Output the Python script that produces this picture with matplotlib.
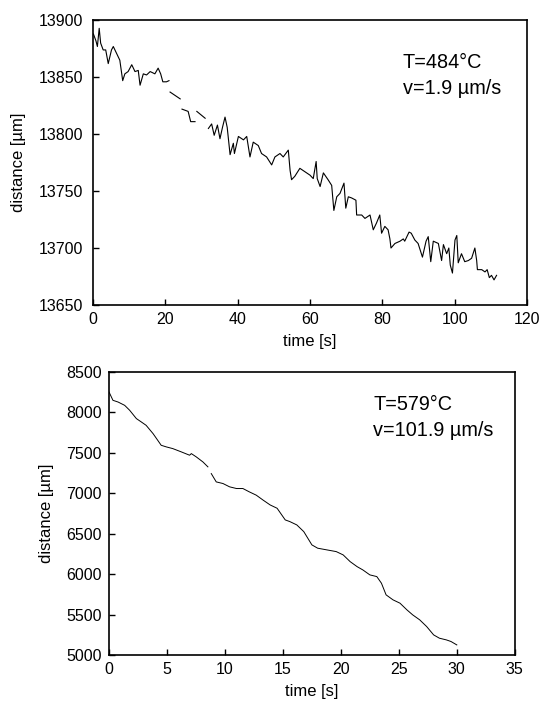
import numpy as np
import matplotlib
matplotlib.use("Agg")
import matplotlib.pyplot as plt

plt.rcParams['font.family'] = ['Liberation Sans', 'DejaVu Sans']

# top panel: T=484 C, slow creep (nan = gaps in the trace)
t1 = [0.1, 0.8, 1.2, 1.7, 2.1, 2.8, 3.5, 4.2, 5.1, 5.6, 6.5, 7.4, 8.2, 8.8, 9.7,
      10.7, 11.6, 12.5, 13.0, 13.9, 14.8, 15.8, 17.1, 18.0, 18.7, 19.3, 20.3, 21.0,
      21.15, 21.3, 22.7, 24.1, 24.35, 24.6, 26.3, 27.0, 28.2, 28.45, 28.7, 31.0,
      31.45, 31.9, 32.8, 33.5, 34.4, 35.1, 35.8, 36.5, 37.1, 37.9, 38.8, 39.1, 40.2,
      41.6, 42.5, 43.4, 44.3, 45.7, 46.6, 48.0, 49.4, 50.3, 51.7, 52.6, 54.0, 54.5,
      54.9, 55.8, 57.2, 58.6, 60.0, 60.9, 61.7, 62.0, 62.8, 63.7, 65.0, 66.0, 66.6,
      67.4, 68.3, 69.4, 69.9, 70.6, 71.5, 72.7, 72.9, 74.3, 75.2, 76.6, 77.5, 78.4,
      79.3, 79.8, 80.7, 81.6, 82.1, 82.4, 83.5, 84.9, 85.8, 86.2, 87.4, 88.0, 89.0,
      89.9, 91.1, 92.1, 92.7, 93.4, 94.1, 95.5, 96.4, 96.9, 97.8, 98.4, 98.8, 99.4,
      100.1, 100.6, 101.0, 101.9, 102.8, 103.8, 104.7, 105.6, 106.1, 106.3, 107.5,
      108.4, 109.0, 109.6, 110.2, 110.9, 111.6]
d1 = [13888, 13882, 13877, 13893, 13880, 13874, 13874, 13862, 13874, 13877, 13871,
      13865, 13847, 13853, 13855, 13861, 13855, 13856, 13843, 13853, 13852, 13855,
      13853, 13858, 13853, 13846, 13846, 13847, np.nan, 13837, 13834, 13831, np.nan,
      13822, 13820, 13811, 13811, np.nan, 13820, 13814, np.nan, 13805, 13809, 13799,
      13808, 13796, 13806, 13815, 13806, 13782, 13792, 13783, 13798, 13795, 13798,
      13780, 13793, 13790, 13783, 13780, 13773, 13780, 13783, 13780, 13786, 13768,
      13760, 13763, 13770, 13767, 13764, 13761, 13776, 13761, 13754, 13766, 13760,
      13755, 13733, 13745, 13748, 13757, 13735, 13745, 13744, 13742, 13729, 13729,
      13726, 13729, 13716, 13722, 13729, 13713, 13719, 13716, 13708, 13700, 13704,
      13706, 13708, 13706, 13714, 13713, 13707, 13704, 13692, 13706, 13710, 13688,
      13706, 13704, 13689, 13703, 13695, 13700, 13685, 13678, 13707, 13711, 13687,
      13695, 13688, 13689, 13691, 13700, 13689, 13681, 13681, 13679, 13681, 13674,
      13676, 13672, 13676]

# bottom panel: T=579 C, fast creep
t2 = [0, 0.34, 0.78, 1.35, 1.78, 2.36, 2.79, 3.2, 3.8, 4.2, 4.5, 4.94, 5.5, 6.24,
      6.95, 7.1, 7.53, 8.1, 8.53, 8.65, 8.82, 9.25, 9.83, 10.4, 11.0, 11.55, 12.1,
      12.7, 13.3, 13.9, 14.5, 15.2, 15.6, 16.2, 16.8, 17.5, 18.0, 18.8, 19.6, 20.2,
      20.8, 21.4, 21.9, 22.5, 23.1, 23.5, 23.9, 24.5, 25.1, 25.7, 26.2, 26.8, 27.4,
      28.0, 28.5, 29.1, 29.5, 30.0]
d2 = [8253, 8150, 8129, 8088, 8027, 7924, 7882, 7841, 7738, 7656, 7594, 7574, 7553,
      7512, 7471, 7491, 7450, 7388, 7327, np.nan, 7244, 7141, 7121, 7080, 7059, 7059,
      7018, 6977, 6915, 6856, 6815, 6671, 6650, 6609, 6526, 6362, 6321, 6300, 6279,
      6238, 6155, 6093, 6052, 5991, 5970, 5888, 5744, 5682, 5641, 5558, 5496, 5435,
      5352, 5249, 5208, 5187, 5167, 5125]

fig = plt.figure(figsize=(5.41, 7.01), dpi=100)

def style(ax, ypad):
    for s in ax.spines.values():
        s.set_linewidth(1.2)
    ax.tick_params(direction='in', length=4, width=1, labelsize=11.5,
                   top=False, right=False)
    ax.tick_params(axis='y', pad=ypad)
    ax.tick_params(axis='x', pad=5)
    ax.set_ylabel('distance [µm]', fontsize=12, labelpad=9)
    ax.set_xlabel('time [s]', fontsize=12, labelpad=5)

ax1 = fig.add_axes([0.172, 0.565, 0.802, 0.406])
ax1.plot(t1, d1, color='black', lw=0.8)
ax1.set_xlim(0, 120)
ax1.set_ylim(13650, 13900)
ax1.set_xticks(np.arange(0, 121, 20))
ax1.set_yticks(np.arange(13650, 13901, 50))
style(ax1, 7)
ax1.text(85.7, 13871, 'T=484°C\nv=1.9 µm/s', fontsize=14.3, va='top', ha='left',
         linespacing=1.45)

ax2 = fig.add_axes([0.2015, 0.0656, 0.750, 0.4037])
ax2.plot(t2, d2, color='black', lw=0.7)
ax2.set_xlim(0, 35)
ax2.set_ylim(5000, 8500)
ax2.set_xticks(np.arange(0, 36, 5))
ax2.set_yticks(np.arange(5000, 8501, 500))
style(ax2, 5)
ax2.text(22.8, 8215, 'T=579°C\nv=101.9 µm/s', fontsize=14.3, va='top', ha='left',
         linespacing=1.45)

fig.savefig('out.png', dpi=100)
